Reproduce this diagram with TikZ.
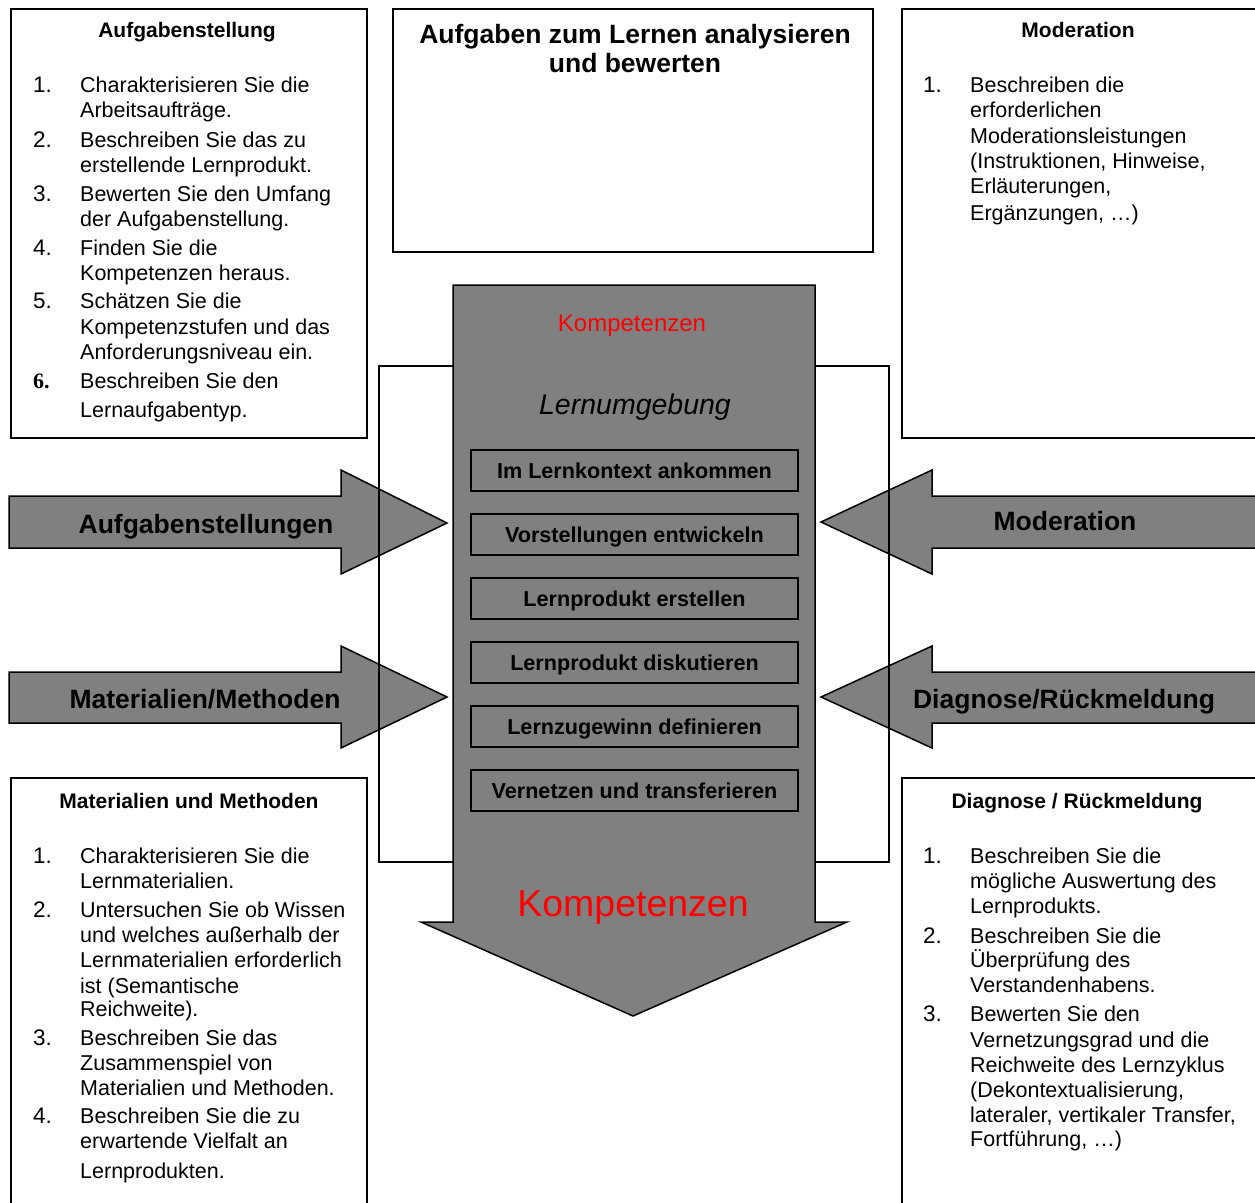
\documentclass[tikz,border=0pt]{standalone}
\usepackage{fontspec}
\setmainfont{Liberation Sans}
\newfontfamily\serifnum{Liberation Serif}
\definecolor{arrowgray}{HTML}{808080}
\definecolor{kred}{HTML}{FF0000}
\newcommand\ListLines[3]{%
  \foreach \myy/\mytext in {#3} {\node[txt, name=#1\myy] at (#2,\myy) {\mytext};}}
\tikzset{
  box/.style={draw, line width=1.5pt},
  txt/.style={anchor=base west, inner sep=0pt, font=\fontsize{21.5}{25}\selectfont},
  numtxt/.style={anchor=base west, inner sep=0pt, font=\fontsize{22.5}{25}\selectfont},
  ttl/.style={anchor=base, inner sep=0pt, font=\bfseries\fontsize{21}{25}\selectfont},
  grayshape/.style={fill=arrowgray, draw=black, line width=1.5pt, line join=miter},
  stage/.style={draw, line width=1.5pt, minimum width=327pt, minimum height=41pt,
    inner sep=0pt, text height=20pt, text depth=4pt, font=\bfseries\fontsize{21.6}{25}\selectfont},
  arrlabel/.style={anchor=base, inner sep=0pt, font=\bfseries\fontsize{26.5}{30}\selectfont},
}
\newcommand\NumLines[3]{%
  \foreach \myy/\mytext in {#3} {\node[numtxt, name=#1\myy] at (#2,\myy) {\mytext};}}
\begin{document}
\begin{tikzpicture}[x=1pt,y=-1pt]
\useasboundingbox (0,0) rectangle (1255,1202);
\clip (0,0) rectangle (1255,1202);

% corner boxes
\draw[box] (11,9) rectangle (367,438);
\draw[box] (393,9) rectangle (873,252);
\draw[box] (902,9) rectangle (1265,438);
\draw[box] (11,778) rectangle (367,1215);
\draw[box] (902,778) rectangle (1265,1215);

% top centre title
\node[arrlabel] (tc1) at (635,43) {Aufgaben zum Lernen analysieren};
\node[arrlabel] (tc2) at (635,72) {und bewerten};

% titles
\node[ttl] (ttlA) at (187,37) {Aufgabenstellung};
\node[ttl] (ttlM) at (1078,37) {Moderation};
\node[ttl] (ttlMM) at (189,808) {Materialien und Methoden};
\node[ttl] (ttlD) at (1077,808) {Diagnose / Rückmeldung};

% top-left list
\NumLines{an}{33}{92/1., 147/2., 201/3., 255/4., 308/5.}
\node[txt, font=\serifnum\bfseries\fontsize{22}{25}\selectfont] (an6) at (33,388) {6.};
\ListLines{a}{80}{92/Charakterisieren Sie die, 117/Arbeitsaufträge., 147/Beschreiben Sie das zu,
  172/erstellende Lernprodukt., 201/Bewerten Sie den Umfang, 226/der Aufgabenstellung.,
  255/Finden Sie die, 280/Kompetenzen heraus., 308/Schätzen Sie die, 334/Kompetenzstufen und das,
  359/Anforderungsniveau ein., 388/Beschreiben Sie den, 417/Lernaufgabentyp.}

% top-right list
\NumLines{mn}{923}{92/1.}
\ListLines{m}{970}{92/Beschreiben die, 117/erforderlichen, 143/Moderationsleistungen,
  168/{(Instruktionen, Hinweise,}, 193/{Erläuterungen,}, 220/{Ergänzungen, …)}}

% bottom-left list
\NumLines{bn}{33}{863/1., 917/2., 1045/3., 1123/4.}
\ListLines{b}{80}{863/Charakterisieren Sie die, 888/Lernmaterialien., 917/Untersuchen Sie ob Wissen,
  942/und welches außerhalb der, 967/Lernmaterialien erforderlich, 993/ist (Semantische,
  1016/Reichweite)., 1045/Beschreiben Sie das, 1070/Zusammenspiel von, 1095/Materialien und Methoden.,
  1123/Beschreiben Sie die zu, 1148/erwartende Vielfalt an, 1178/Lernprodukten.}

% bottom-right list
\NumLines{dn}{923}{863/1., 943/2., 1021/3.}
\ListLines{d}{970}{863/Beschreiben Sie die, 888/mögliche Auswertung des, 913/Lernprodukts.,
  943/Beschreiben Sie die, 967/Überprüfung des, 992/Verstandenhabens., 1021/Bewerten Sie den,
  1047/Vernetzungsgrad und die, 1072/Reichweite des Lernzyklus, 1097/{(Dekontextualisierung,},
  1122/{lateraler, vertikaler Transfer,}, 1146/{Fortführung, …)}}

% side arrows
\draw[grayshape] (9,496) -- (341,496) -- (341,470) -- (447,523) -- (341,574) -- (341,548) -- (9,548) -- cycle;
\draw[grayshape] (9,672) -- (341,672) -- (341,646) -- (447,697) -- (341,748) -- (341,723) -- (9,723) -- cycle;
\draw[grayshape] (1265,496) -- (932,496) -- (932,470) -- (821,522) -- (932,574) -- (932,548) -- (1265,548) -- cycle;
\draw[grayshape] (1265,672) -- (932,672) -- (932,646) -- (821,697) -- (932,748) -- (932,723) -- (1265,723) -- cycle;
\node[arrlabel] (lAuf) at (206,533) {Aufgabenstellungen};
\node[arrlabel] (lMat) at (205,708) {Materialien/Methoden};
\node[arrlabel] (lMod) at (1065,530) {Moderation};
\node[arrlabel] (lDia) at (1064,708) {Diagnose/Rückmeldung};

% frame behind the central arrow
\draw[line width=1.5pt] (379,366) rectangle (889,862);

% central arrow
\draw[grayshape] (453,285) -- (815,285) -- (815,922) -- (847,922) -- (633,1016) -- (421,922) -- (453,922) -- cycle;
\node[anchor=base, inner sep=0pt, text=kred, font=\fontsize{24}{28}\selectfont] (komp1) at (632,331) {Kompetenzen};
\node[anchor=base, inner sep=0pt, font=\itshape\fontsize{28.5}{32}\selectfont] (lu) at (635,414) {Lernumgebung};
\node[stage] (s1) at (634.5,470.5) {Im Lernkontext ankommen};
\node[stage] (s2) at (634.5,534.5) {Vorstellungen entwickeln};
\node[stage] (s3) at (634.5,598.5) {Lernprodukt erstellen};
\node[stage] (s4) at (634.5,662.5) {Lernprodukt diskutieren};
\node[stage] (s5) at (634.5,726.5) {Lernzugewinn definieren};
\node[stage] (s6) at (634.5,790.5) {Vernetzen und transferieren};
\node[anchor=base, inner sep=0pt, text=kred, font=\fontsize{37.5}{42}\selectfont] (komp2) at (633,916) {Kompetenzen};
\end{tikzpicture}
\end{document}
